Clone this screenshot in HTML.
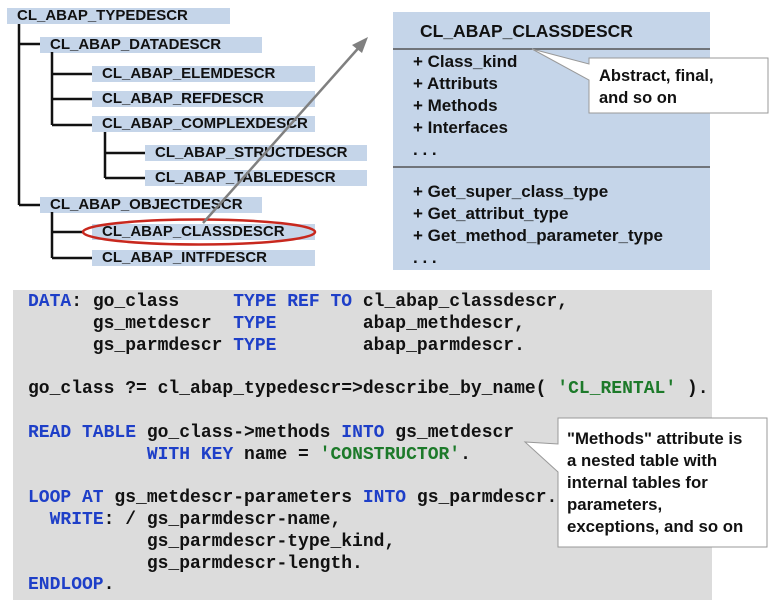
<!DOCTYPE html>
<html><head><meta charset="utf-8"><style>
body{margin:0;width:775px;height:606px;background:#fff;position:relative;overflow:hidden;font-family:"Liberation Sans",Arial,sans-serif}
.n{position:absolute;height:16px;background:#c5d5e9;font-weight:bold;font-size:15px;line-height:16px;padding-left:10px;color:#111;box-sizing:border-box;white-space:nowrap}
.t{position:absolute;font-weight:bold;white-space:nowrap;color:#111}
pre{margin:0;position:absolute;left:28px;top:292px;font-family:"Liberation Mono",monospace;font-weight:bold;font-size:18px;line-height:21.8px;color:#111}
.k{color:#1e3fc8}.s{color:#1d7a2a}
</style></head><body>
<div class="n" style="left:7px;top:8px;width:223px">CL_ABAP_TYPEDESCR</div>
<div class="n" style="left:40px;top:37px;width:222px">CL_ABAP_DATADESCR</div>
<div class="n" style="left:92px;top:66px;width:223px">CL_ABAP_ELEMDESCR</div>
<div class="n" style="left:92px;top:91px;width:223px">CL_ABAP_REFDESCR</div>
<div class="n" style="left:92px;top:116px;width:223px">CL_ABAP_COMPLEXDESCR</div>
<div class="n" style="left:145px;top:145px;width:222px">CL_ABAP_STRUCTDESCR</div>
<div class="n" style="left:145px;top:170px;width:222px">CL_ABAP_TABLEDESCR</div>
<div class="n" style="left:40px;top:197px;width:222px">CL_ABAP_OBJECTDESCR</div>
<div class="n" style="left:92px;top:224px;width:223px">CL_ABAP_CLASSDESCR</div>
<div class="n" style="left:92px;top:250px;width:223px">CL_ABAP_INTFDESCR</div>

<div style="position:absolute;left:393px;top:12px;width:317px;height:258px;background:#c5d5e9"></div>
<div style="position:absolute;left:13px;top:290px;width:699px;height:310px;background:#dcdcdc"></div>

<svg width="775" height="606" style="position:absolute;left:0;top:0">
<g stroke="#111" stroke-width="2.5" fill="none">
<path d="M19 24V205M19 44H40M19 205H40"/>
<path d="M52 52V125M52 74H92M52 99H92M52 125H92"/>
<path d="M105 132V178M105 153H145M105 178H145"/>
<path d="M52 212V258M52 232H84M52 258H92"/>
</g>
<ellipse cx="199" cy="232" rx="116" ry="12.5" fill="none" stroke="#c8281e" stroke-width="2.5"/>
<line x1="203" y1="223" x2="362" y2="44" stroke="#808080" stroke-width="2.5"/>
<polygon points="368,37 352,45 362,53" fill="#808080"/>
<g stroke="#555" stroke-width="1.5"><line x1="393" y1="49" x2="710" y2="49"/><line x1="393" y1="167" x2="710" y2="167"/></g>
<polygon points="589,58 768,58 768,113 589,113 589,80 532,49 589,64" fill="#fff" stroke="#999" stroke-width="1"/>
<polygon points="558,418 767,418 767,547 558,547 558,472 525,442 558,444" fill="#fff" stroke="#999" stroke-width="1"/>
</svg>

<div class="t" style="left:420px;top:21px;font-size:17.5px">CL_ABAP_CLASSDESCR</div>
<div class="t" style="left:413px;top:51px;font-size:17px;line-height:22px">+ Class_kind<br>+ Attributs<br>+ Methods<br>+ Interfaces<br>. . .</div>
<div class="t" style="left:413px;top:181px;font-size:17px;line-height:22px">+ Get_super_class_type<br>+ Get_attribut_type<br>+ Get_method_parameter_type<br>. . .</div>
<div class="t" style="left:599px;top:65px;font-size:16.5px;line-height:22px">Abstract, final,<br>and so on</div>
<div class="t" style="left:567px;top:428px;font-size:16.8px;line-height:22px">"Methods" attribute is<br>a nested table with<br>internal tables for<br>parameters,<br>exceptions, and so on</div>

<pre><span class="k">DATA</span>: go_class     <span class="k">TYPE REF TO</span> cl_abap_classdescr,
      gs_metdescr  <span class="k">TYPE</span>        abap_methdescr,
      gs_parmdescr <span class="k">TYPE</span>        abap_parmdescr.

go_class ?= cl_abap_typedescr=>describe_by_name( <span class="s">'CL_RENTAL'</span> ).

<span class="k">READ TABLE</span> go_class->methods <span class="k">INTO</span> gs_metdescr
           <span class="k">WITH KEY</span> name = <span class="s">'CONSTRUCTOR'</span>.

<span class="k">LOOP AT</span> gs_metdescr-parameters <span class="k">INTO</span> gs_parmdescr.
  <span class="k">WRITE</span>: / gs_parmdescr-name,
           gs_parmdescr-type_kind,
           gs_parmdescr-length.
<span class="k">ENDLOOP</span>.</pre>
</body></html>
